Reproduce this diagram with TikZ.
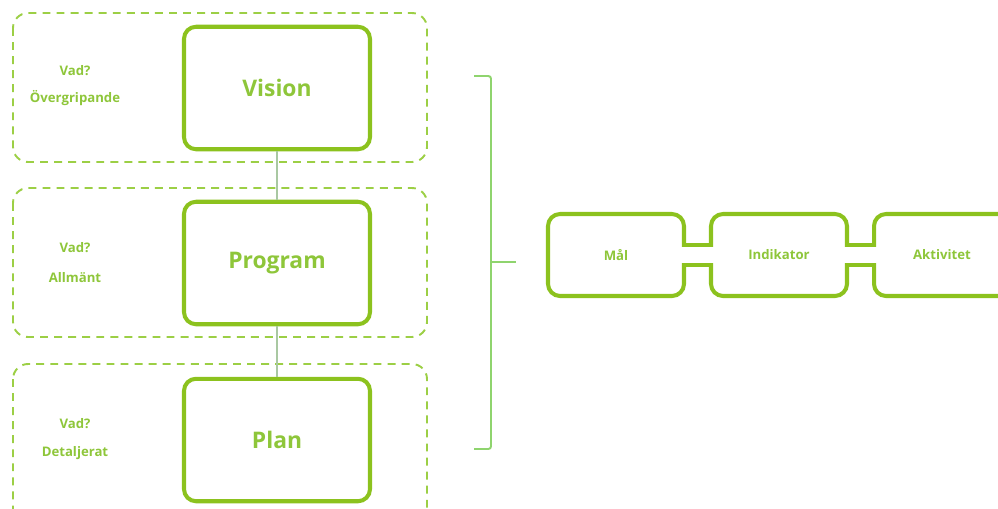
\documentclass[tikz,border=0pt]{standalone}
\usepackage{fontspec}
\setmainfont{Open Sans}
\usetikzlibrary{positioning}
\definecolor{boxgreen}{HTML}{8CC21E}
\definecolor{dashgreen}{HTML}{9CCF45}
\definecolor{txtgreen}{HTML}{8EC63A}
\definecolor{linkgray}{HTML}{A9C8A2}
\definecolor{bracegreen}{HTML}{8FD46E}
\tikzset{
  levelbox/.style={draw=boxgreen,line width=2.3pt,rounded corners=0.24cm,
    minimum width=3.72cm,minimum height=2.45cm,text=txtgreen,
    font=\fontsize{13}{15}\selectfont\bfseries},
  groupbox/.style={draw=dashgreen,line width=1.1pt,dash pattern=on 4.5pt off 3.5pt,
    rounded corners=0.3cm},
  note/.style={text=txtgreen,font=\fontsize{7.5}{9}\selectfont\bfseries,inner sep=0pt},
  chainbox/.style={draw=boxgreen,line width=2.3pt,rounded corners=0.24cm,
    minimum width=2.72cm,minimum height=1.64cm,text=txtgreen,
    font=\fontsize{7.5}{9}\selectfont\bfseries},
  link/.style={draw=linkgray,line width=1pt},
  brace/.style={draw=bracegreen,line width=1.1pt,rounded corners=1.5pt}
}
\begin{document}
\begin{tikzpicture}[x=0.02cm,y=-0.02cm]
\useasboundingbox (0,0) rectangle (998,508);
% dashed groups
\draw[groupbox] (13,13) rectangle (427,162);
\draw[groupbox] (13,188) rectangle (427,337);
\draw[groupbox] (13,364) rectangle (427,545);
% levels
\node[levelbox] (vision) at (277,88) {Vision};
\node[levelbox] (program) at (277,263) {Program};
\node[levelbox] (plan) at (277,440) {Plan};
\draw[link] (vision) -- (program);
\draw[link] (program) -- (plan);
% notes
\node[note] (vad1) at (75,71) {Vad?};
\node[note] (desc1) at (75,98) {Övergripande};
\node[note] (vad2) at (75,248) {Vad?};
\node[note] (desc2) at (75,278) {Allmänt};
\node[note] (vad3) at (75,424) {Vad?};
\node[note] (desc3) at (75,453) {Detaljerat};
% bracket
\coordinate (brtop) at (474,76);
\coordinate (brbot) at (474,449);
\coordinate (brtip) at (516,262);
\draw[brace] (brtop) -- (491,76) -- (491,449) -- (brbot);
\draw[brace] (491,262) -- (brtip);
% chain
\node[chainbox] (mal) at (616,255) {Mål};
\node[chainbox] (indikator) at (779,255) {Indikator};
\node[chainbox] (aktivitet) at (942,255) {Aktivitet};
\foreach \a/\b in {mal/indikator,indikator/aktivitet}{
  \fill[white] ([xshift=-0.12cm,yshift=0.16cm]\a.east) rectangle ([xshift=0.12cm,yshift=-0.16cm]\b.west);
  \draw[boxgreen,line width=2.3pt] ([yshift=0.2cm]\a.east) -- ([yshift=0.2cm]\b.west);
  \draw[boxgreen,line width=2.3pt] ([yshift=-0.2cm]\a.east) -- ([yshift=-0.2cm]\b.west);
}
\end{tikzpicture}
\end{document}
